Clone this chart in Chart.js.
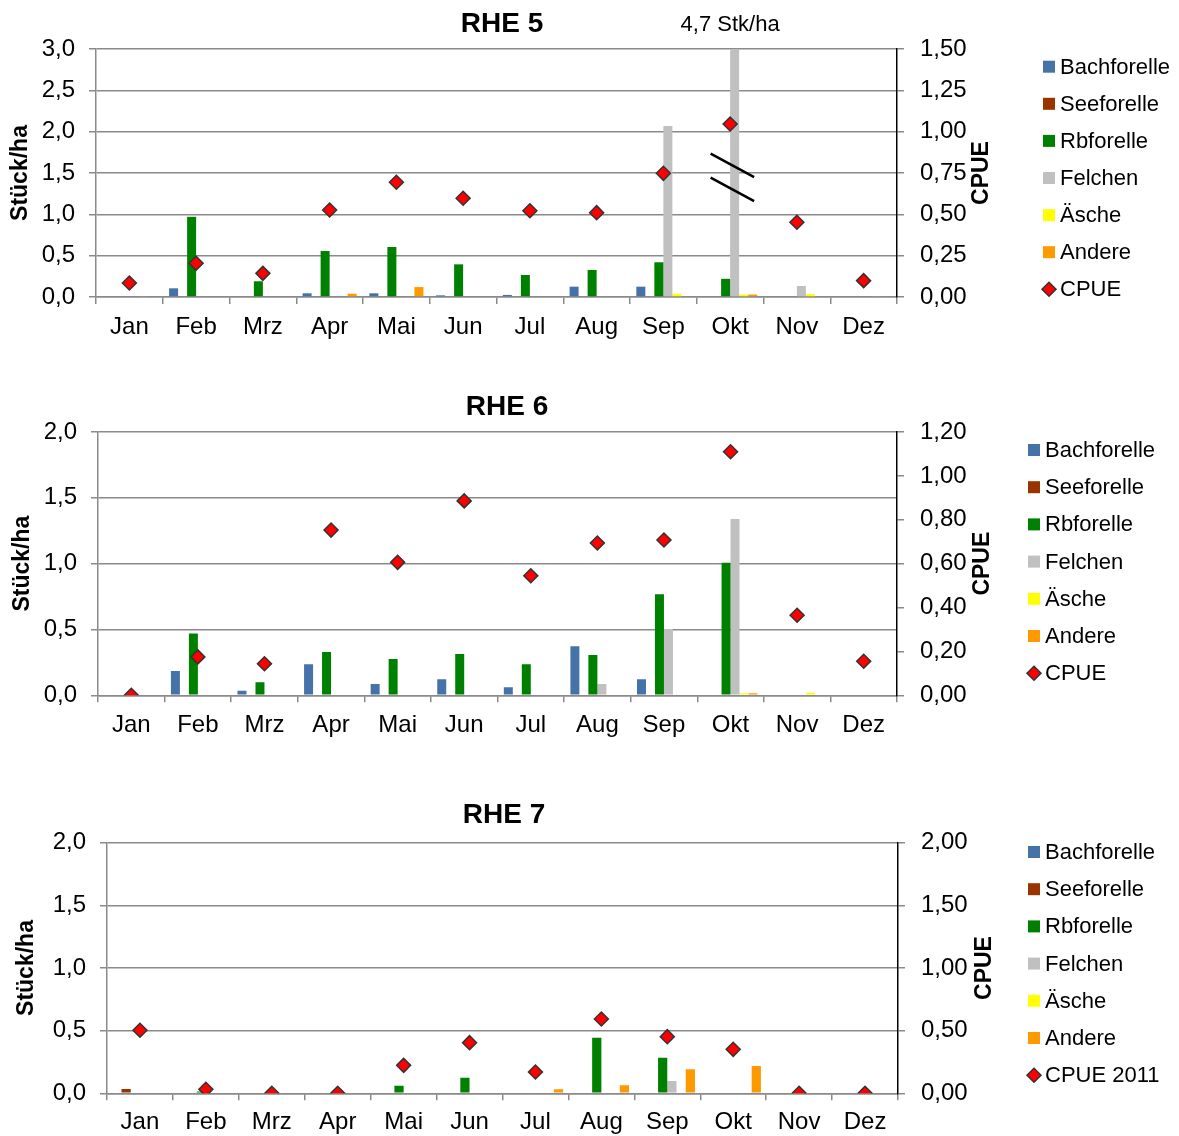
<!DOCTYPE html>
<html><head><meta charset="utf-8">
<script src="https://cdn.jsdelivr.net/npm/chart.js@4"></script>
<style>
html,body{margin:0;padding:0;background:#fff;overflow:hidden;}
.box{position:absolute;left:0;width:1179px;}
</style></head><body>
<div class="box" style="top:0px;height:350px"><canvas id="c5"></canvas></div>
<div class="box" style="top:350px;height:410px"><canvas id="c6"></canvas></div>
<div class="box" style="top:760px;height:376px"><canvas id="c7"></canvas></div>
<script>
const FONT = "'Liberation Sans', Arial, Helvetica, sans-serif";

// ---------- data ----------
const months = ['Jan','Feb','Mrz','Apr','Mai','Jun','Jul','Aug','Sep','Okt','Nov','Dez'];
const species = ['Bachforelle','Seeforelle','Rbforelle','Felchen','Äsche','Andere'];
const speciesColors = ['#4572A7','#993300','#008000','#C0C0C0','#FFFF00','#FF9900'];

// RHE 5 (Stück/ha)
const rhe5Bach    = [0, 0.105, 0, 0.045, 0.045, 0.02, 0.025, 0.125, 0.125, 0, 0, 0];
const rhe5See     = [0, 0, 0, 0, 0, 0, 0, 0, 0, 0, 0, 0];
const rhe5Rb      = [0, 0.97, 0.19, 0.556, 0.605, 0.395, 0.266, 0.327, 0.42, 0.22, 0, 0];
const rhe5Felchen = [0, 0, 0, 0, 0, 0, 0, 0, 2.07, 4.7, 0.133, 0];
const rhe5Aesche  = [0.01, 0, 0, 0, 0, 0, 0, 0, 0.04, 0.03, 0.035, 0.01];
const rhe5Andere  = [0, 0, 0, 0.04, 0.12, 0, 0, 0, 0, 0.03, 0, 0];
const rhe5Cpue    = [0.085, 0.204, 0.143, 0.526, 0.694, 0.597, 0.522, 0.51, 0.748, 1.046, 0.452, 0.099];
const rhe5Note = '4,7 Stk/ha';
const rhe5NoteMonth = 'Okt';
const rhe5BreakValue = 1.45;

// RHE 6
const rhe6Bach    = [0, 0.185, 0.035, 0.235, 0.086, 0.121, 0.061, 0.372, 0.121, 0, 0, 0];
const rhe6See     = [0, 0, 0, 0, 0, 0, 0, 0, 0, 0, 0, 0];
const rhe6Rb      = [0, 0.47, 0.099, 0.329, 0.276, 0.314, 0.235, 0.306, 0.767, 1.007, 0, 0];
const rhe6Felchen = [0, 0, 0, 0, 0, 0, 0, 0.086, 0.504, 1.339, 0, 0];
const rhe6Aesche  = [0, 0, 0, 0, 0, 0, 0, 0, 0, 0.015, 0.02, 0];
const rhe6Andere  = [0, 0, 0, 0, 0, 0, 0, 0, 0, 0.015, 0, 0];
const rhe6Cpue    = [0, 0.175, 0.144, 0.753, 0.606, 0.886, 0.545, 0.694, 0.708, 1.11, 0.365, 0.155];

// RHE 7
const rhe7Bach    = [0, 0, 0, 0, 0, 0, 0, 0, 0, 0, 0, 0];
const rhe7See     = [0.034, 0, 0, 0, 0, 0, 0, 0, 0, 0, 0, 0];
const rhe7Rb      = [0, 0.015, 0, 0, 0.061, 0.125, 0, 0.444, 0.284, 0, 0, 0];
const rhe7Felchen = [0, 0, 0, 0, 0, 0, 0, 0, 0.098, 0, 0, 0];
const rhe7Aesche  = [0, 0, 0, 0, 0, 0, 0, 0, 0, 0, 0, 0];
const rhe7Andere  = [0, 0, 0, 0, 0, 0, 0.032, 0.064, 0.191, 0.218, 0, 0];
const rhe7Cpue    = [0.503, 0.032, 0, 0, 0.223, 0.404, 0.17, 0.593, 0.452, 0.351, 0, 0];

// ---------- drawing ----------
Chart.defaults.font.family = FONT;
Chart.defaults.font.size = 24;
Chart.defaults.color = '#000';

const GRID = '#8a8a8a';

function buildChart(id, c) {
  const off = c.top;
  const H = c.height;
  const datasets = c.bars.map((arr, i) => ({
    type: 'bar', label: species[i], data: arr, backgroundColor: speciesColors[i],
    borderWidth: 0, categoryPercentage: c.catPct, barPercentage: 1.0,
    yAxisID: 'y', clip: 0, order: 1
  }));
  datasets.push({
    type: 'line', label: c.cpueLabel, data: c.cpue, yAxisID: 'y1', showLine: false,
    pointStyle: 'rectRot', pointRadius: 7, pointHoverRadius: 7,
    pointBackgroundColor: '#FF0000', pointBorderColor: '#333333', pointBorderWidth: 1.5,
    order: 0
  });

  const decor = {
    id: 'decor_' + id,
    afterDraw(chart) {
      const ctx = chart.ctx, ca = chart.chartArea;
      ctx.save();
      ctx.fillStyle = '#000'; ctx.textAlign = 'center'; ctx.textBaseline = 'middle';
      ctx.font = 'bold 28px ' + FONT;
      ctx.fillText(c.title, c.titleX, c.titleY - off);
      // right axis title
      ctx.save();
      ctx.translate(c.cpueX, (ca.top + ca.bottom) / 2);
      ctx.rotate(-Math.PI / 2);
      ctx.font = 'bold 23px ' + FONT;
      ctx.fillText('CPUE', 0, 0);
      ctx.restore();
      // legend
      const labels = species.concat([c.cpueLabel]);
      ctx.textAlign = 'left';
      ctx.font = '22px ' + FONT;
      labels.forEach((lab, i) => {
        const y = c.legY0 + i * c.legStep - off;
        if (i < species.length) {
          ctx.fillStyle = speciesColors[i];
          ctx.fillRect(c.legSqX, y - 6, 12, 12);
        } else {
          const cx = c.legSqX + 6, r = 7;
          ctx.beginPath();
          ctx.moveTo(cx, y - r); ctx.lineTo(cx + r, y); ctx.lineTo(cx, y + r); ctx.lineTo(cx - r, y); ctx.closePath();
          ctx.fillStyle = '#FF0000'; ctx.fill();
          ctx.lineWidth = 1.5; ctx.strokeStyle = '#333333'; ctx.stroke();
        }
        ctx.fillStyle = '#000';
        ctx.fillText(lab, c.legTextX, y + 1);
      });
      if (c.extra) c.extra(chart, ctx, off);
      ctx.restore();
    }
  };

  new Chart(document.getElementById(id), {
    type: 'bar',
    data: { labels: months, datasets },
    options: {
      responsive: true, maintainAspectRatio: false, animation: false,
      layout: { padding: { top: c.chartTop - off, left: 0, right: 0, bottom: 0 } },
      plugins: { legend: { display: false }, tooltip: { enabled: false }, title: { display: false } },
      events: [],
      scales: {
        x: {
          offset: true,
          grid: { offset: true, drawOnChartArea: false, drawTicks: true, tickLength: 7, color: GRID, lineWidth: 1.5 },
          border: { color: GRID, width: 1.5 },
          ticks: { padding: c.xPad, maxRotation: 0, autoSkip: false, color: '#000', font: { size: 24 } },
          afterFit: s => { s.height = H - (c.chartBottom - off); }
        },
        y: {
          position: 'left', min: 0, max: c.leftMax,
          ticks: { stepSize: c.leftStep, padding: 14, color: '#000', font: { size: 24 },
                   callback: v => Number(v).toFixed(1).replace('.', ',') },
          grid: { color: GRID, lineWidth: 1.5, tickLength: 7 },
          border: { color: GRID, width: 1.5 },
          title: { display: true, text: 'Stück/ha', font: { size: 23, weight: 'bold' }, color: '#000',
                   padding: { top: c.yTitlePad, bottom: 0 } },
          afterFit: s => { s.width = c.leftW; }
        },
        y1: {
          position: 'right', min: 0, max: c.rightMax,
          ticks: { stepSize: c.rightStep, padding: 16, color: '#000', font: { size: 24 },
                   callback: v => Number(v).toFixed(2).replace('.', ',') },
          grid: { drawOnChartArea: false, color: GRID, lineWidth: 1.5, tickLength: 7 },
          border: { color: '#000', width: 1.5 },
          afterFit: s => { s.width = 1179 - c.rightX; }
        }
      }
    },
    plugins: [decor]
  });
}

buildChart('c5', {
  top: 0, height: 350, chartTop: 49, chartBottom: 297, leftW: 96, rightX: 897,
  bars: [rhe5Bach, rhe5See, rhe5Rb, rhe5Felchen, rhe5Aesche, rhe5Andere], cpue: rhe5Cpue,
  cpueLabel: 'CPUE', catPct: 0.81,
  leftMax: 3, leftStep: 0.5, rightMax: 1.5, rightStep: 0.25,
  xPad: 9, yTitlePad: 7,
  title: 'RHE 5', titleX: 502, titleY: 24, cpueX: 982,
  legSqX: 1043, legTextX: 1060, legY0: 66.7, legStep: 37.1,
  extra: (chart, ctx, off) => {
    const xs = chart.scales.x, ys = chart.scales.y;
    const x = xs.getPixelForValue(months.indexOf(rhe5NoteMonth));
    ctx.fillStyle = '#000'; ctx.textAlign = 'center'; ctx.textBaseline = 'middle';
    ctx.font = '22px ' + FONT;
    ctx.fillText(rhe5Note, x, 25 - off);
    const y = ys.getPixelForValue(rhe5BreakValue);
    ctx.strokeStyle = '#000'; ctx.lineWidth = 2.5;
    ctx.beginPath();
    ctx.moveTo(x - 19.5, y - 23.5); ctx.lineTo(x + 24, y);
    ctx.moveTo(x - 19.5, y + 0.5); ctx.lineTo(x + 24, y + 24);
    ctx.stroke();
  }
});

buildChart('c6', {
  top: 350, height: 410, chartTop: 432, chartBottom: 695.3, leftW: 98, rightX: 897,
  bars: [rhe6Bach, rhe6See, rhe6Rb, rhe6Felchen, rhe6Aesche, rhe6Andere], cpue: rhe6Cpue,
  cpueLabel: 'CPUE', catPct: 0.81,
  leftMax: 2, leftStep: 0.5, rightMax: 1.2, rightStep: 0.2,
  xPad: 9, yTitlePad: 9,
  title: 'RHE 6', titleX: 507, titleY: 407, cpueX: 983,
  legSqX: 1028, legTextX: 1045, legY0: 450, legStep: 37.2
});

buildChart('c7', {
  top: 760, height: 376, chartTop: 842.7, chartBottom: 1093.3, leftW: 107, rightX: 898,
  bars: [rhe7Bach, rhe7See, rhe7Rb, rhe7Felchen, rhe7Aesche, rhe7Andere], cpue: rhe7Cpue,
  cpueLabel: 'CPUE 2011', catPct: 0.84,
  leftMax: 2, leftStep: 0.5, rightMax: 2, rightStep: 0.5,
  xPad: 8, yTitlePad: 13,
  title: 'RHE 7', titleX: 504, titleY: 815, cpueX: 985,
  legSqX: 1028, legTextX: 1045, legY0: 852, legStep: 37.2
});
</script>
</body></html>
